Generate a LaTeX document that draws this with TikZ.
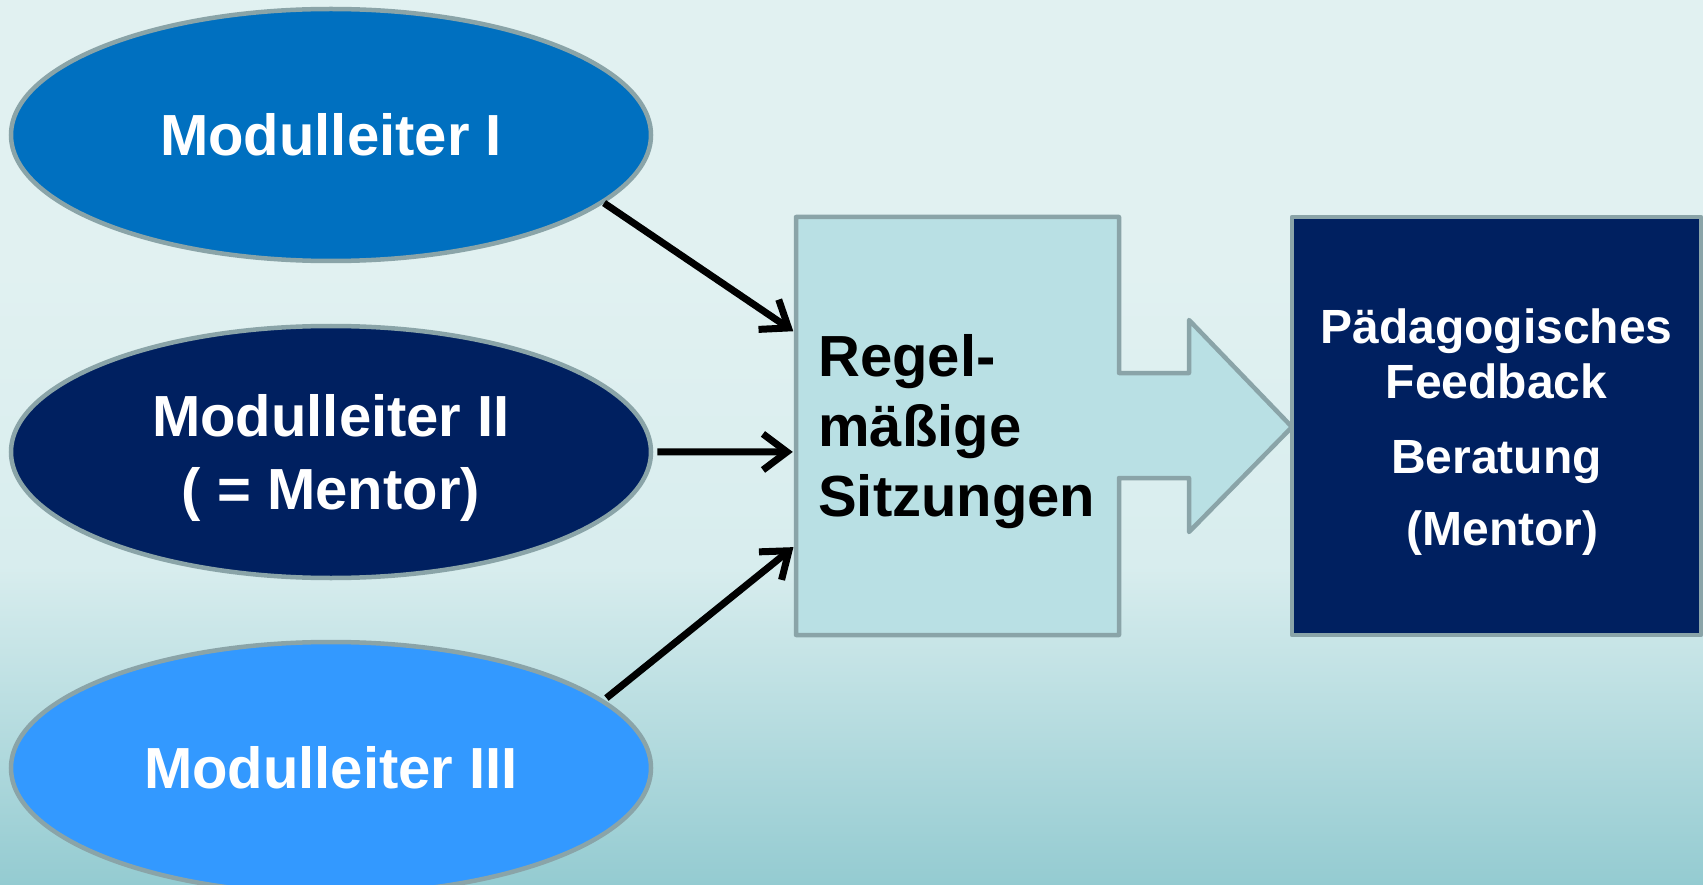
\documentclass[tikz,border=0pt]{standalone}
\usepackage{fontspec}
\setmainfont{Liberation Sans}
\usetikzlibrary{arrows.meta,shapes.geometric,calc}
\definecolor{bgtop}{RGB}{225,241,241}
\definecolor{bgmid}{RGB}{216,237,238}
\definecolor{bgbot}{RGB}{148,203,209}
\definecolor{edgegray}{RGB}{138,164,168}
\definecolor{mlone}{RGB}{0,112,192}
\definecolor{mltwo}{RGB}{0,32,96}
\definecolor{mlthree}{RGB}{51,153,255}
\definecolor{midfill}{RGB}{185,224,228}
\pgfdeclareverticalshading{bgshade}{100bp}{color(0bp)=(bgbot); color(25bp)=(bgbot); color(43bp)=(bgmid); color(60bp)=(bgtop); color(100bp)=(bgtop)}
\tikzset{
  oval/.style={ellipse, draw=edgegray, line width=4.5pt, minimum width=640pt, minimum height=252pt,
    inner sep=0pt, text=white, font=\fontsize{58}{73}\selectfont\bfseries, align=center},
  conn/.style={line width=7pt, -{Straight Barb[length=24pt,width=36pt,line width=7pt]}},
  boxedge/.style={draw=edgegray, line width=4.5pt, line join=round}
}
\begin{document}
\begin{tikzpicture}[x=1pt,y=-1pt]
\useasboundingbox (0,0) rectangle (1703,885);
\shade[shading=bgshade] (0,0) rectangle (1703,885);

% ellipses
\node[oval, fill=mlone] (e1) at (331,135) {Modulleiter I};
\node[oval, fill=mltwo, text depth=0pt] (e2) at (331,452) {Modulleiter II\\( = Mentor)};
\node[oval, fill=mlthree] (e3) at (331,768) {Modulleiter III};

% middle block with arrow
\node[minimum width=323pt, minimum height=418pt, inner sep=0pt] (mid) at (957.5,426) {};
\filldraw[boxedge, fill=midfill] (796,217) -- (1119,217) -- (1119,373) -- (1189,373) -- (1189,320)
  -- (1292,427) -- (1189,532) -- (1189,478) -- (1119,478) -- (1119,635) -- (796,635) -- cycle;
\node[anchor=west, inner sep=0pt, align=left, font=\fontsize{58}{70}\selectfont\bfseries] (midtext)
  at (818,432) {Regel-\\mäßige\\Sitzungen};

% right box
\node[boxedge, fill=mltwo, minimum width=409pt, minimum height=418pt, inner sep=0pt] (fb) at (1496.5,426) {};
\node[inner sep=0pt, align=center, text=white, font=\fontsize{48}{55}\selectfont\bfseries] (fbtext)
  at (1496.5,432) {Pädagogisches\\Feedback\\[20pt]Beratung\\[17pt]\hspace*{12pt}(Mentor)};

% connectors
\draw[conn, shorten >=3pt] (e1.-14.5) -- ($(mid.north west)!0.2775!(mid.south west)$);
\draw[conn, shorten <=4pt, shorten >=3pt] (e2.east) -- ($(mid.north west)!0.562!(mid.south west)$);
\draw[conn, shorten <=3pt, shorten >=3pt] (e3.14) -- ($(mid.north west)!0.785!(mid.south west)$);
\end{tikzpicture}
\end{document}
